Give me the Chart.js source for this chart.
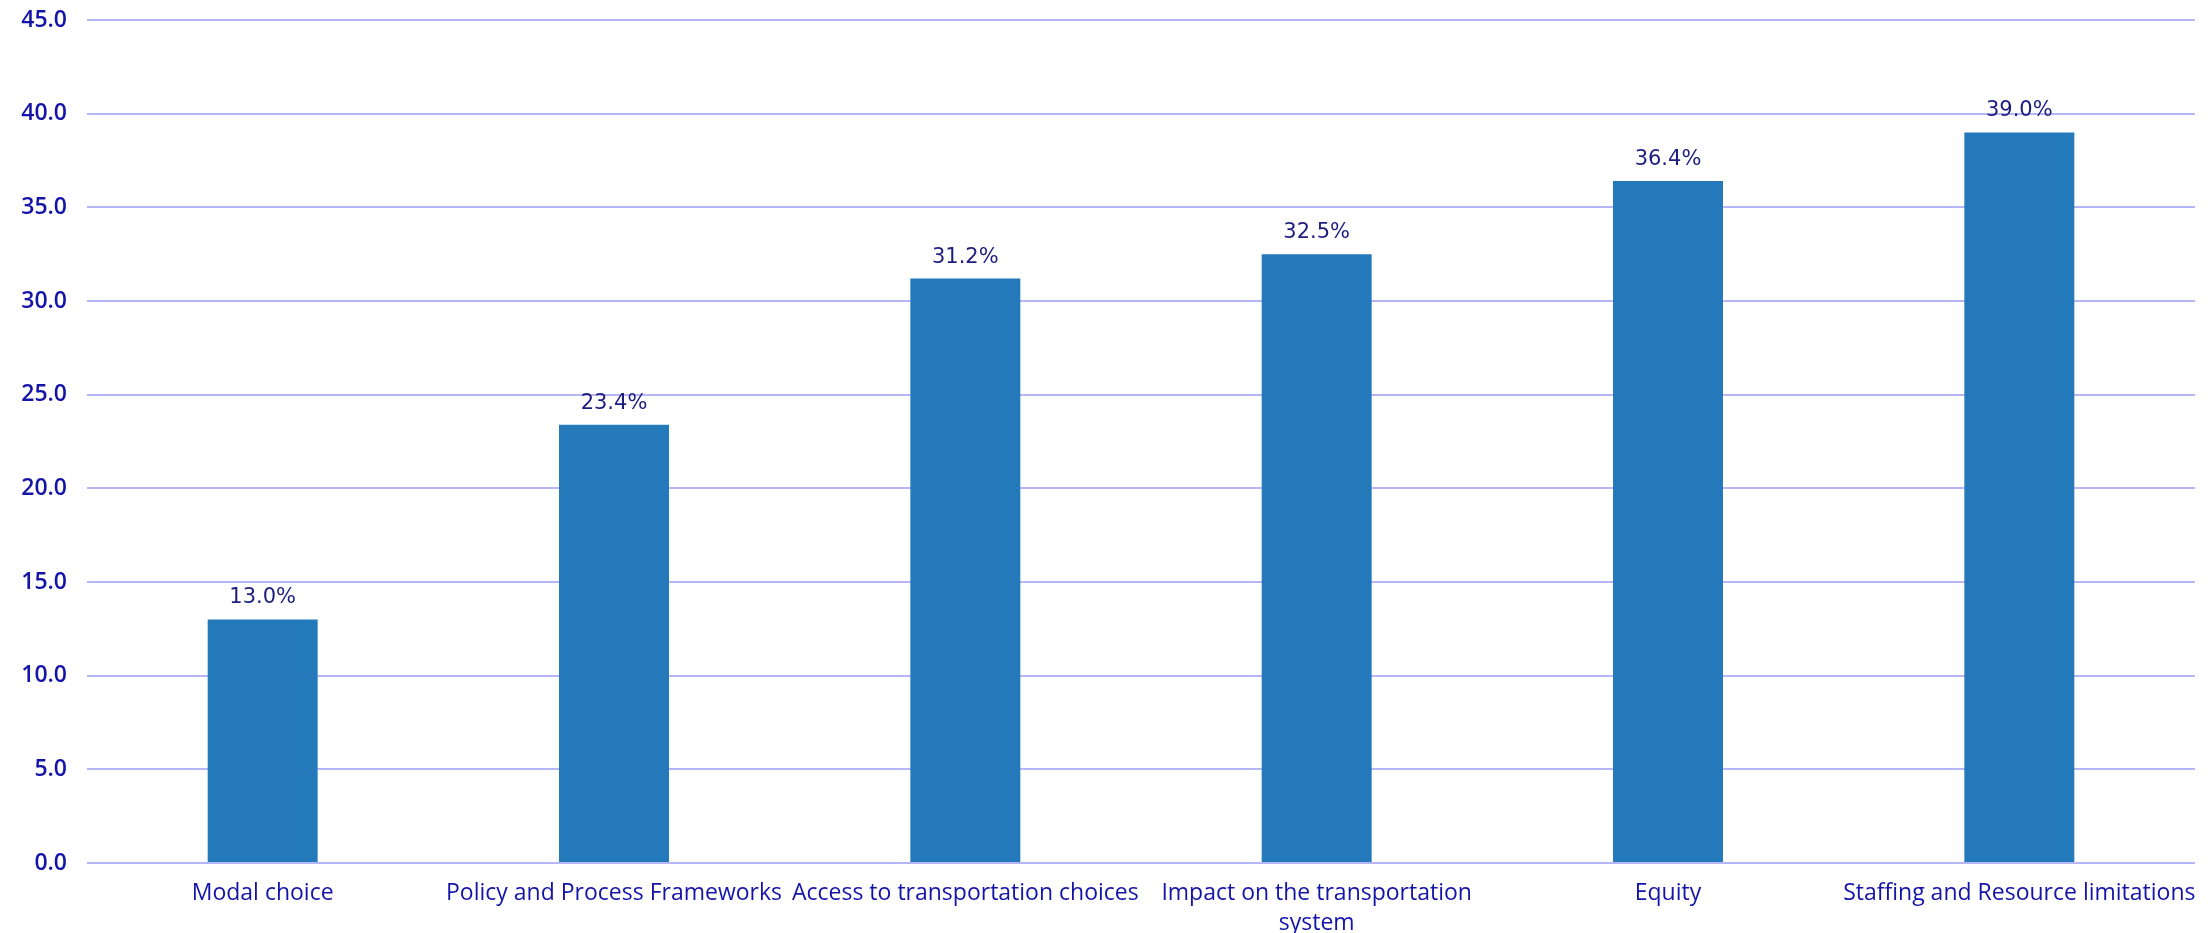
<!DOCTYPE html>
<html>
<head>
<meta charset="utf-8">
<script src="https://cdn.jsdelivr.net/npm/chart.js@4/dist/chart.umd.min.js"></script>
<style>
  html, body { margin: 0; padding: 0; background: #ffffff; }
  #wrap { width: 2208px; height: 933px; }
</style>
</head>
<body>
<div id="wrap"><canvas id="chart" width="2208" height="933"></canvas></div>
<script>
// Share of respondents citing each challenge (%)
const categories = [
  'Modal choice',
  'Policy and Process Frameworks',
  'Access to transportation choices',
  ['Impact on the transportation', 'system'],
  'Equity',
  'Staffing and Resource limitations'
];
const shares = [13.0, 23.4, 31.2, 32.5, 36.4, 39.0];
const yTicks = [0, 5, 10, 15, 20, 25, 30, 35, 40, 45];

const tickColor = '#1414a8';
const gridColor = '#b6b6f6';

// Writes each bar's value above it
const valueLabels = {
  id: 'valueLabels',
  afterDatasetsDraw(chart) {
    const ctx = chart.ctx;
    const meta = chart.getDatasetMeta(0);
    const values = chart.data.datasets[0].data;
    ctx.save();
    ctx.font = '21px "DejaVu Sans"';
    ctx.fillStyle = '#1d1d80';
    ctx.textAlign = 'center';
    ctx.textBaseline = 'alphabetic';
    meta.data.forEach((bar, i) => {
      ctx.fillText(values[i].toFixed(1) + '%', bar.x, bar.y - 16);
    });
    ctx.restore();
  }
};

new Chart(document.getElementById('chart'), {
  type: 'bar',
  data: {
    labels: categories,
    datasets: [{
      data: shares,
      backgroundColor: '#2479ba',
      borderWidth: 0,
      categoryPercentage: 1.0,
      barPercentage: 0.313
    }]
  },
  options: {
    responsive: false,
    animation: false,
    devicePixelRatio: 1,
    layout: { padding: { top: 20, right: 13, left: 0, bottom: 0 } },
    plugins: {
      legend: { display: false },
      tooltip: { enabled: false }
    },
    scales: {
      x: {
        grid: { display: false, drawTicks: false },
        border: { display: false },
        ticks: {
          color: tickColor,
          font: { family: '"Open Sans"', size: 23, lineHeight: 1.3 },
          maxRotation: 0,
          autoSkip: false,
          padding: 16
        },
        afterFit(scale) {
          scale.height = 70;
          scale.paddingLeft = 0;
          scale.paddingRight = 0;
        }
      },
      y: {
        min: 0,
        max: 45,
        afterBuildTicks(scale) {
          scale.ticks = yTicks.map(v => ({ value: v }));
        },
        grid: { color: gridColor, lineWidth: 2, drawTicks: false },
        border: { display: false },
        ticks: {
          color: tickColor,
          font: { family: '"Open Sans"', size: 23, weight: '600' },
          padding: 20,
          callback: v => Number(v).toFixed(1)
        },
        afterFit(scale) {
          scale.width = 87;
          scale.paddingTop = 0;
          scale.paddingBottom = 0;
        }
      }
    }
  },
  plugins: [valueLabels]
});
</script>
</body>
</html>
